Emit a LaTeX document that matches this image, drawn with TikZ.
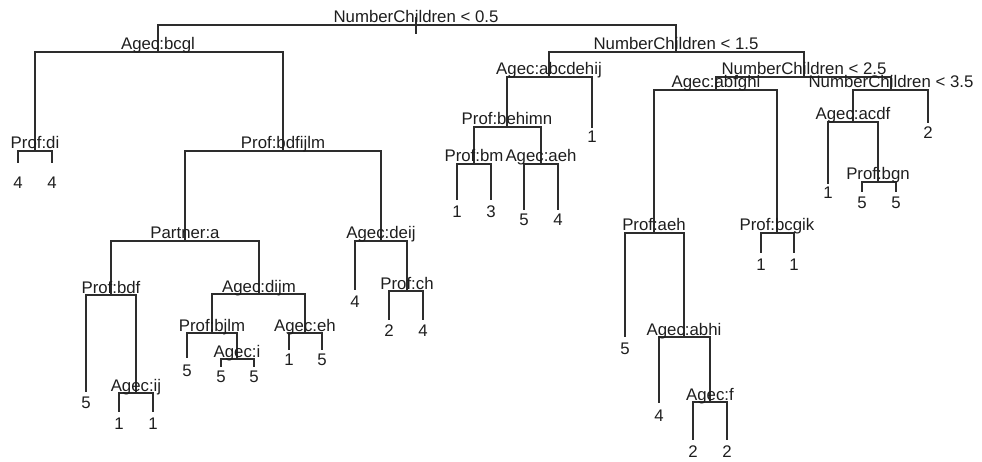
\documentclass[tikz,border=0pt]{standalone}
\usepackage{fontspec}
\setmainfont{Liberation Sans}
\definecolor{treeline}{RGB}{45,45,45}
\definecolor{treetext}{RGB}{30,30,30}
\begin{document}
\begin{tikzpicture}[x=1pt,y=-1pt,
  branch/.style={draw=treeline, line width=1.3pt},
  splitlabel/.style={anchor=base, inner sep=0pt, text=treetext,
    font=\fontsize{16.8}{18}\selectfont},
  leaflabel/.style={anchor=center, inner sep=0pt, text=treetext,
    font=\fontsize{16.8}{18}\selectfont}]
\useasboundingbox (0,0) rectangle (982,462);

% ---- split points (x of node, y of its horizontal bar) ----
\coordinate (r)      at (416,25);
\coordinate (bcgl)   at (158,52);
\coordinate (di)     at (35,151);
\coordinate (bdfijlm) at (283,151);
\coordinate (partner) at (185,241);
\coordinate (bdf)    at (111,295);
\coordinate (ij)     at (136,393);
\coordinate (dijm)   at (259,294);
\coordinate (bjlm)   at (212,333);
\coordinate (agi)    at (237,359);
\coordinate (eh)     at (305,333);
\coordinate (deij)   at (381,241);
\coordinate (ch)     at (407,291);
\coordinate (nc1)    at (676,52);
\coordinate (abcdehij) at (549,77);
\coordinate (behimn) at (507,127);
\coordinate (bm)     at (474,164);
\coordinate (aeh)    at (541,164);
\coordinate (nc2)    at (804,77);
\coordinate (abfghi) at (716,90);
\coordinate (paeh)   at (654,233);
\coordinate (abhi)   at (684,337);
\coordinate (agf)    at (710,402);
\coordinate (bcgik)  at (777,233);
\coordinate (nc3)    at (891,90);
\coordinate (acdf)   at (853,122);
\coordinate (bgn)    at (878,182);

% ---- leaf ends ----
\coordinate (l1)  at (18,163);   \coordinate (l2)  at (52,163);
\coordinate (l3)  at (86,392);
\coordinate (l4)  at (119,412);  \coordinate (l5)  at (153,412);
\coordinate (l6)  at (187,358);
\coordinate (l7)  at (221,367);  \coordinate (l8)  at (254,367);
\coordinate (l9)  at (289,350);  \coordinate (l10) at (322,350);
\coordinate (l11) at (355,290);
\coordinate (l12) at (389,320);  \coordinate (l13) at (423,320);
\coordinate (l14) at (457,200);  \coordinate (l15) at (491,200);
\coordinate (l16) at (524,210);  \coordinate (l17) at (558,210);
\coordinate (l18) at (592,128);
\coordinate (l19) at (625,337);
\coordinate (l20) at (659,403);
\coordinate (l21) at (693,440);  \coordinate (l22) at (727,440);
\coordinate (l23) at (761,253);  \coordinate (l24) at (794,253);
\coordinate (l25) at (828,184);
\coordinate (l26) at (862,192);  \coordinate (l27) at (896,192);
\coordinate (l28) at (928,123);

% ---- branches ----
\draw[branch] ([yshift=8pt]r) -- ([yshift=-9pt]r);
\draw[branch] (r) -| (bcgl);   \draw[branch] (r) -| (nc1);
\draw[branch] (bcgl) -| (di);  \draw[branch] (bcgl) -| (bdfijlm);
\draw[branch] (di) -| (l1);    \draw[branch] (di) -| (l2);
\draw[branch] (bdfijlm) -| (partner); \draw[branch] (bdfijlm) -| (deij);
\draw[branch] (partner) -| (bdf); \draw[branch] (partner) -| (dijm);
\draw[branch] (bdf) -| (l3);   \draw[branch] (bdf) -| (ij);
\draw[branch] (ij) -| (l4);    \draw[branch] (ij) -| (l5);
\draw[branch] (dijm) -| (bjlm); \draw[branch] (dijm) -| (eh);
\draw[branch] (bjlm) -| (l6);  \draw[branch] (bjlm) -| (agi);
\draw[branch] (agi) -| (l7);   \draw[branch] (agi) -| (l8);
\draw[branch] (eh) -| (l9);    \draw[branch] (eh) -| (l10);
\draw[branch] (deij) -| (l11); \draw[branch] (deij) -| (ch);
\draw[branch] (ch) -| (l12);   \draw[branch] (ch) -| (l13);
\draw[branch] (nc1) -| (abcdehij); \draw[branch] (nc1) -| (nc2);
\draw[branch] (abcdehij) -| (behimn); \draw[branch] (abcdehij) -| (l18);
\draw[branch] (behimn) -| (bm); \draw[branch] (behimn) -| (aeh);
\draw[branch] (bm) -| (l14);   \draw[branch] (bm) -| (l15);
\draw[branch] (aeh) -| (l16);  \draw[branch] (aeh) -| (l17);
\draw[branch] (nc2) -| (abfghi); \draw[branch] (nc2) -| (nc3);
\draw[branch] (abfghi) -| (paeh); \draw[branch] (abfghi) -| (bcgik);
\draw[branch] (paeh) -| (l19); \draw[branch] (paeh) -| (abhi);
\draw[branch] (abhi) -| (l20); \draw[branch] (abhi) -| (agf);
\draw[branch] (agf) -| (l21);  \draw[branch] (agf) -| (l22);
\draw[branch] (bcgik) -| (l23); \draw[branch] (bcgik) -| (l24);
\draw[branch] (nc3) -| (acdf); \draw[branch] (nc3) -| (l28);
\draw[branch] (acdf) -| (l25); \draw[branch] (acdf) -| (bgn);
\draw[branch] (bgn) -| (l26);  \draw[branch] (bgn) -| (l27);

% ---- split labels ----
\node[splitlabel] (tr)  at ([yshift=2pt]r) {NumberChildren < 0.5};
\node[splitlabel] (t1)  at ([yshift=2pt]bcgl) {Agec:bcgl};
\node[splitlabel] (t2)  at ([yshift=2pt]di) {Prof:di};
\node[splitlabel] (t3)  at ([yshift=2pt]bdfijlm) {Prof:bdfijlm};
\node[splitlabel] (t4)  at ([yshift=2pt]partner) {Partner:a};
\node[splitlabel] (t5)  at ([yshift=2pt]bdf) {Prof:bdf};
\node[splitlabel] (t6)  at ([yshift=2pt]ij) {Agec:ij};
\node[splitlabel] (t7)  at ([yshift=2pt]dijm) {Agec:dijm};
\node[splitlabel] (t8)  at ([yshift=2pt]bjlm) {Prof:bjlm};
\node[splitlabel] (t9)  at ([yshift=2pt]agi) {Agec:i};
\node[splitlabel] (t10) at ([yshift=2pt]eh) {Agec:eh};
\node[splitlabel] (t11) at ([yshift=2pt]deij) {Agec:deij};
\node[splitlabel] (t12) at ([yshift=2pt]ch) {Prof:ch};
\node[splitlabel] (t13) at ([yshift=2pt]nc1) {NumberChildren < 1.5};
\node[splitlabel] (t14) at ([yshift=2pt]abcdehij) {Agec:abcdehij};
\node[splitlabel] (t15) at ([yshift=2pt]behimn) {Prof:behimn};
\node[splitlabel] (t16) at ([yshift=2pt]bm) {Prof:bm};
\node[splitlabel] (t17) at ([yshift=2pt]aeh) {Agec:aeh};
\node[splitlabel] (t18) at ([yshift=2pt]nc2) {NumberChildren < 2.5};
\node[splitlabel] (t19) at ([yshift=2pt]abfghi) {Agec:abfghi};
\node[splitlabel] (t20) at ([yshift=2pt]paeh) {Prof:aeh};
\node[splitlabel] (t21) at ([yshift=2pt]abhi) {Agec:abhi};
\node[splitlabel] (t22) at ([yshift=2pt]agf) {Agec:f};
\node[splitlabel] (t23) at ([yshift=2pt]bcgik) {Prof:bcgik};
\node[splitlabel] (t24) at ([yshift=2pt]nc3) {NumberChildren < 3.5};
\node[splitlabel] (t25) at ([yshift=2pt]acdf) {Agec:acdf};
\node[splitlabel] (t26) at ([yshift=2pt]bgn) {Prof:bgn};

% ---- leaf labels ----
\node[leaflabel] (v1)  at ([yshift=-20pt]l1)  {4};
\node[leaflabel] (v2)  at ([yshift=-20pt]l2)  {4};
\node[leaflabel] (v3)  at ([yshift=-11pt]l3)  {5};
\node[leaflabel] (v4)  at ([yshift=-12pt]l4)  {1};
\node[leaflabel] (v5)  at ([yshift=-12pt]l5)  {1};
\node[leaflabel] (v6)  at ([yshift=-13pt]l6)  {5};
\node[leaflabel] (v7)  at ([yshift=-10pt]l7)  {5};
\node[leaflabel] (v8)  at ([yshift=-10pt]l8)  {5};
\node[leaflabel] (v9)  at ([yshift=-10pt]l9)  {1};
\node[leaflabel] (v10) at ([yshift=-10pt]l10) {5};
\node[leaflabel] (v11) at ([yshift=-12pt]l11) {4};
\node[leaflabel] (v12) at ([yshift=-11pt]l12) {2};
\node[leaflabel] (v13) at ([yshift=-11pt]l13) {4};
\node[leaflabel] (v14) at ([yshift=-12pt]l14) {1};
\node[leaflabel] (v15) at ([yshift=-12pt]l15) {3};
\node[leaflabel] (v16) at ([yshift=-10pt]l16) {5};
\node[leaflabel] (v17) at ([yshift=-10pt]l17) {4};
\node[leaflabel] (v18) at ([yshift=-9pt]l18)  {1};
\node[leaflabel] (v19) at ([yshift=-12pt]l19) {5};
\node[leaflabel] (v20) at ([yshift=-13pt]l20) {4};
\node[leaflabel] (v21) at ([yshift=-12pt]l21) {2};
\node[leaflabel] (v22) at ([yshift=-12pt]l22) {2};
\node[leaflabel] (v23) at ([yshift=-12pt]l23) {1};
\node[leaflabel] (v24) at ([yshift=-12pt]l24) {1};
\node[leaflabel] (v25) at ([yshift=-9pt]l25)  {1};
\node[leaflabel] (v26) at ([yshift=-11pt]l26) {5};
\node[leaflabel] (v27) at ([yshift=-11pt]l27) {5};
\node[leaflabel] (v28) at ([yshift=-10pt]l28) {2};
\end{tikzpicture}
\end{document}
